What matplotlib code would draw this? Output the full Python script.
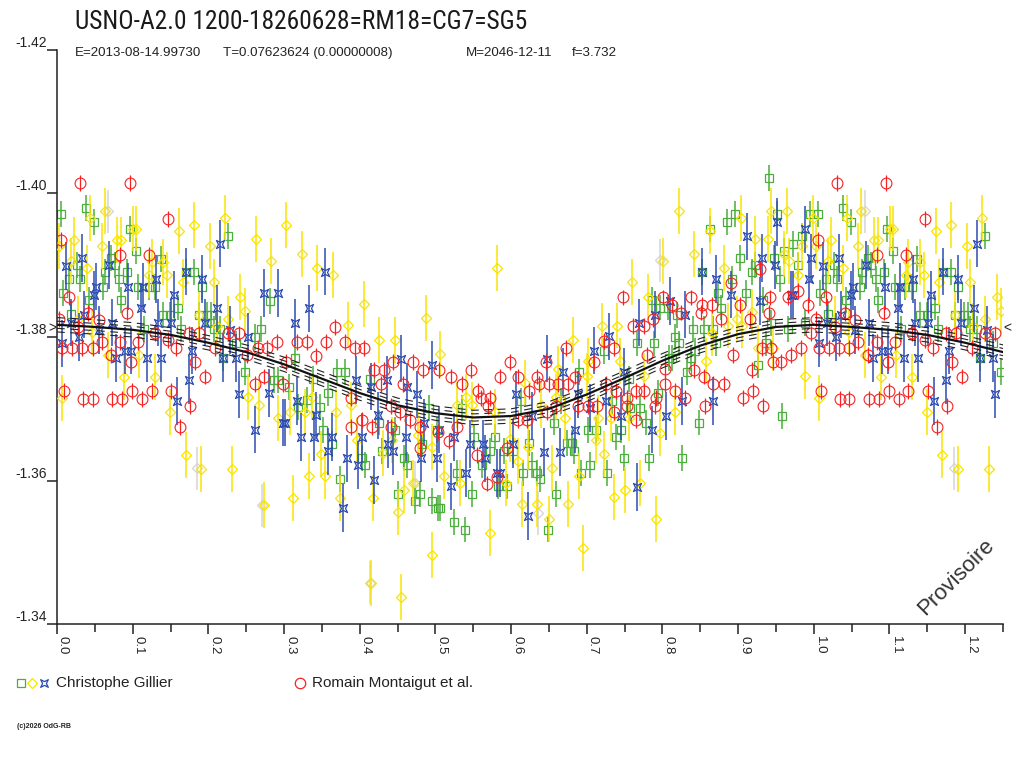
import numpy as np
import matplotlib
matplotlib.use("Agg")
import matplotlib.pyplot as plt
from matplotlib.path import Path
from matplotlib.lines import Line2D
from matplotlib.ticker import FixedLocator, MultipleLocator
from matplotlib import font_manager

# ---------------- data ----------------
TITLE = "USNO-A2.0 1200-18260628=RM18=CG7=SG5"
SUB_PARTS = ["E=2013-08-14.99730", "T=0.07623624 (0.00000008)", "M=2046-12-11", "f=3.732"]
YTICKS = [-1.42, -1.40, -1.38, -1.36, -1.34]
XTICK_LABELS = ["0.0", "0.1", "0.2", "0.3", "0.4", "0.5", "0.6", "0.7", "0.8", "0.9", "1.0", "1.1", "1.2"]
MEAN_MAG = -1.3813

GREEN_PHASE = [0.005, 0.038, 0.049, 0.097, 0.104, 0.226, 0.008, 0.016, 0.027, 0.030,
               0.019, 0.042, 0.061, 0.064, 0.071, 0.076, 0.082, 0.085, 0.093, 0.107,
               0.121, 0.130, 0.137, 0.140, 0.149, 0.160, 0.171, 0.181, 0.191, 0.187,
               0.198, 0.204, 0.164, 0.115, 0.207, 0.215, 0.220, 0.248, 0.237,
               0.281, 0.270, 0.261, 0.314, 0.287, 0.292, 0.307, 0.330, 0.338, 0.358,
               0.319, 0.347, 0.370, 0.381, 0.352, 0.363, 0.414, 0.425, 0.374, 0.403,
               0.407, 0.429, 0.447, 0.458, 0.462, 0.450, 0.480, 0.473, 0.495, 0.491,
               0.503, 0.502, 0.482,
               0.535, 0.551, 0.579, 0.561, 0.572, 0.590, 0.602, 0.613, 0.624, 0.627,
               0.616, 0.634, 0.638, 0.583, 0.594, 0.548, 0.528, 0.506, 0.524, 0.539,
               0.649, 0.660, 0.657, 0.674, 0.680, 0.683, 0.693, 0.704, 0.701, 0.712,
               0.738, 0.745, 0.727, 0.749, 0.723, 0.690, 0.666, 0.734,
               0.941, 0.896, 0.885, 0.863, 0.952, 0.995, 0.984, 0.973, 0.961, 0.903,
               0.852, 0.918, 0.922, 0.948, 0.955, 0.979, 0.892, 0.874, 0.878, 0.911,
               0.797, 0.808, 0.819, 0.786, 0.841, 0.855, 0.867, 0.767, 0.789, 0.816,
               0.822, 0.871, 0.809, 0.812, 0.838, 0.843, 0.833, 0.756, 0.933, 0.944,
               0.966, 0.937, 0.989, 0.926, 0.794, 0.757, 0.770, 0.778, 0.848, 0.958,
               0.782, 0.826]
GREEN_MAG = [-1.3971, -1.3980, -1.3960, -1.3950, -1.3920, -1.3940, -1.3861, -1.3881, -1.3900, -1.3881,
             -1.3832, -1.3852, -1.3870, -1.3891, -1.3910, -1.3900, -1.3881, -1.3851, -1.3891, -1.3870,
             -1.3870, -1.3870, -1.3909, -1.3831, -1.3831, -1.3841, -1.3891, -1.3891, -1.3870, -1.3831,
             -1.3831, -1.3831, -1.3811, -1.3811, -1.3811, -1.3811, -1.3771, -1.3751, -1.3791,
             -1.3850, -1.3811, -1.3800, -1.3771, -1.3740, -1.3740, -1.3731, -1.3712, -1.3742, -1.3722,
             -1.3702, -1.3702, -1.3751, -1.3751, -1.3671, -1.3651, -1.3742, -1.3681, -1.3602, -1.3631,
             -1.3622, -1.3641, -1.3671, -1.3631, -1.3622, -1.3581, -1.3581, -1.3572, -1.3572, -1.3701,
             -1.3562, -1.3671, -1.3651,
             -1.3701, -1.3661, -1.3661, -1.3622, -1.3641, -1.3641, -1.3641, -1.3711, -1.3652, -1.3622,
             -1.3611, -1.3611, -1.3602, -1.3592, -1.3592, -1.3581, -1.3611, -1.3562, -1.3542, -1.3532,
             -1.3532, -1.3581, -1.3681, -1.3652, -1.3652, -1.3641, -1.3611, -1.3622, -1.3671, -1.3671,
             -1.3661, -1.3671, -1.3611, -1.3631, -1.3781, -1.3751, -1.3711, -1.3711,
             -1.4021, -1.3971, -1.3960, -1.3950, -1.3971, -1.3971, -1.3940, -1.3930, -1.3920, -1.3910,
             -1.3891, -1.3891, -1.3900, -1.3910, -1.3881, -1.3900, -1.3881, -1.3861, -1.3841, -1.3861,
             -1.3841, -1.3841, -1.3831, -1.3851, -1.3811, -1.3811, -1.3811, -1.3791, -1.3791, -1.3800,
             -1.3791, -1.3791, -1.3771, -1.3771, -1.3771, -1.3781, -1.3751, -1.3741, -1.3852, -1.3820,
             -1.3811, -1.3791, -1.3820, -1.3761, -1.3722, -1.3701, -1.3701, -1.3681, -1.3681, -1.3690,
             -1.3631, -1.3631]

YELLOW_PHASE = [0.003, 0.019, 0.023, 0.039, 0.044, 0.063, 0.059, 0.079, 0.085, 0.101,
                0.105, 0.122, 0.125, 0.140, 0.146, 0.161, 0.181, 0.202, 0.222, 0.166,
                0.207, 0.242, 0.248, 0.226, 0.187, 0.211, 0.028, 0.046, 0.068, 0.109,
                0.089, 0.130, 0.007, 0.149, 0.170, 0.190, 0.231, 0.253,
                0.303, 0.263, 0.283, 0.324, 0.344, 0.365, 0.406, 0.385, 0.487, 0.426,
                0.447, 0.506, 0.267, 0.292, 0.308, 0.328, 0.337, 0.369, 0.389, 0.396,
                0.349, 0.333, 0.354, 0.273, 0.312, 0.374, 0.418, 0.451, 0.459, 0.471,
                0.431, 0.442, 0.495, 0.477, 0.415, 0.454, 0.496,
                0.581, 0.682, 0.720, 0.740, 0.744, 0.702, 0.662, 0.700, 0.618, 0.541,
                0.528, 0.548, 0.579, 0.640, 0.660, 0.671, 0.715, 0.732, 0.712, 0.622,
                0.598, 0.723, 0.512, 0.532, 0.593, 0.609, 0.654, 0.690, 0.614, 0.634,
                0.675, 0.736, 0.751, 0.650, 0.572, 0.695,
                0.822, 0.904, 0.943, 0.964, 0.999, 0.863, 0.922, 0.939, 0.984, 0.960,
                0.967, 0.842, 0.801, 0.882, 0.979, 0.760, 0.781, 0.918, 0.887, 0.898,
                0.905, 0.866, 0.926, 0.946, 0.857, 0.776, 0.988, 0.816, 0.756, 0.797,
                0.770, 0.792]
YELLOW_MAG = [-1.3926, -1.3906, -1.3935, -1.3896, -1.3965, -1.3976, -1.3926, -1.3935, -1.3935, -1.3951,
              -1.3951, -1.3886, -1.3905, -1.3905, -1.3886, -1.3947, -1.3956, -1.3926, -1.3965, -1.3876,
              -1.3876, -1.3856, -1.3836, -1.3825, -1.3830, -1.3816, -1.3825, -1.3807, -1.3775, -1.3775,
              -1.3745, -1.3745, -1.3715, -1.3696, -1.3636, -1.3616, -1.3616, -1.3717,
              -1.3956, -1.3936, -1.3906, -1.3916, -1.3896, -1.3886, -1.3846, -1.3817, -1.3826, -1.3796,
              -1.3796, -1.3777, -1.3705, -1.3687, -1.3696, -1.3696, -1.3716, -1.3696, -1.3705, -1.3657,
              -1.3637, -1.3607, -1.3607, -1.3566, -1.3576, -1.3576, -1.3576, -1.3557, -1.3587, -1.3597,
              -1.3638, -1.3657, -1.3647, -1.3664, -1.3457, -1.3438, -1.3497,
              -1.3896, -1.3796, -1.3816, -1.3816, -1.3766, -1.3766, -1.3755, -1.3746, -1.3736, -1.3716,
              -1.3705, -1.3705, -1.3696, -1.3705, -1.3716, -1.3687, -1.3687, -1.3687, -1.3657, -1.3647,
              -1.3658, -1.3637, -1.3607, -1.3597, -1.3597, -1.3627, -1.3617, -1.3607, -1.3567, -1.3567,
              -1.3567, -1.3577, -1.3587, -1.3547, -1.3527, -1.3507,
              -1.3976, -1.3965, -1.3976, -1.3976, -1.3965, -1.3947, -1.3936, -1.3936, -1.3926, -1.3916,
              -1.3906, -1.3916, -1.3906, -1.3896, -1.3886, -1.3876, -1.3856, -1.3835, -1.3816, -1.3825,
              -1.3816, -1.3806, -1.3785, -1.3785, -1.3766, -1.3746, -1.3746, -1.3696, -1.3687, -1.3666,
              -1.3597, -1.3547]

BLUE_PHASE = [0.012, 0.033, 0.069, 0.052, 0.049, 0.094, 0.114, 0.131, 0.111, 0.155,
              0.171, 0.191, 0.216, 0.212, 0.195, 0.151, 0.134, 0.073, 0.036, 0.018,
              0.029, 0.007, 0.055, 0.090, 0.098, 0.078, 0.119, 0.138, 0.179, 0.175,
              0.159, 0.220, 0.237, 0.229, 0.240, 0.252,
              0.354, 0.273, 0.292, 0.333, 0.314, 0.280, 0.261, 0.298, 0.301, 0.317,
              0.322, 0.339, 0.363, 0.342, 0.358, 0.383, 0.398, 0.378, 0.419, 0.395,
              0.415, 0.436, 0.455, 0.463, 0.476, 0.496, 0.424, 0.403, 0.438, 0.444,
              0.461, 0.481, 0.485, 0.502,
              0.729, 0.709, 0.647, 0.668, 0.607, 0.627, 0.689, 0.704, 0.726, 0.745,
              0.749, 0.684, 0.643, 0.664, 0.602, 0.563, 0.546, 0.565, 0.524, 0.505,
              0.541, 0.581, 0.585, 0.521, 0.623,
              0.952, 0.989, 0.912, 0.996, 0.932, 0.949, 0.852, 0.871, 0.993, 0.891,
              0.970, 0.973, 0.929, 0.810, 0.790, 0.830, 0.769, 0.867, 0.826, 0.805,
              0.786, 0.766]
BLUE_MAG = [-1.3899, -1.3910, -1.3900, -1.3870, -1.3859, -1.3870, -1.3870, -1.3881, -1.3840, -1.3859,
            -1.3891, -1.3881, -1.3930, -1.3840, -1.3820, -1.3820, -1.3820, -1.3820, -1.3831, -1.3820,
            -1.3800, -1.3791, -1.3810, -1.3781, -1.3781, -1.3771, -1.3771, -1.3771, -1.3781, -1.3740,
            -1.3711, -1.3771, -1.3771, -1.3810, -1.3720, -1.3800,
            -1.3891, -1.3861, -1.3861, -1.3840, -1.3820, -1.3722, -1.3671, -1.3681, -1.3681, -1.3711,
            -1.3661, -1.3661, -1.3661, -1.3691, -1.3641, -1.3631, -1.3622, -1.3562, -1.3601, -1.3740,
            -1.3731, -1.3740, -1.3770, -1.3731, -1.3720, -1.3761, -1.3691, -1.3661, -1.3651, -1.3641,
            -1.3661, -1.3631, -1.3681, -1.3631,
            -1.3801, -1.3781, -1.3770, -1.3751, -1.3720, -1.3690, -1.3720, -1.3701, -1.3711, -1.3690,
            -1.3751, -1.3671, -1.3640, -1.3640, -1.3651, -1.3651, -1.3651, -1.3631, -1.3661, -1.3671,
            -1.3611, -1.3611, -1.3611, -1.3592, -1.3551,
            -1.3960, -1.3950, -1.3940, -1.3910, -1.3910, -1.3900, -1.3891, -1.3881, -1.3881, -1.3859,
            -1.3859, -1.3859, -1.3850, -1.3850, -1.3831, -1.3831, -1.3820, -1.3711, -1.3711, -1.3690,
            -1.3671, -1.3591]

RED_PHASE = [0.030, 0.096, 0.147, 0.005, 0.083, 0.122, 0.016, 0.093, 0.003, 0.041,
             0.055, 0.028, 0.059, 0.083, 0.107, 0.130, 0.007, 0.020, 0.033, 0.047,
             0.071, 0.098, 0.009, 0.034, 0.047, 0.073, 0.086, 0.099, 0.112, 0.125,
             0.151, 0.176, 0.163, 0.196, 0.183, 0.175, 0.188, 0.226, 0.240, 0.209,
             0.147, 0.251, 0.157,
             0.367, 0.261, 0.266, 0.278, 0.291, 0.317, 0.330, 0.355, 0.342, 0.380,
             0.394, 0.406, 0.303, 0.274, 0.299, 0.389, 0.419, 0.432, 0.444, 0.428,
             0.457, 0.471, 0.483, 0.505, 0.441, 0.453, 0.467, 0.403, 0.389, 0.416,
             0.441, 0.480, 0.480, 0.504,
             0.748, 0.672, 0.521, 0.535, 0.547, 0.586, 0.598, 0.609, 0.634, 0.646,
             0.637, 0.650, 0.662, 0.675, 0.684, 0.710, 0.723, 0.736, 0.726, 0.739,
             0.556, 0.560, 0.572, 0.569, 0.624, 0.609, 0.621, 0.647, 0.659, 0.689,
             0.702, 0.714, 0.736, 0.753, 0.518, 0.529, 0.555, 0.568, 0.582, 0.595,
             0.929, 0.890, 0.942, 0.801, 0.838, 0.812, 0.852, 0.865, 0.902, 0.966,
             0.979, 0.992, 0.941, 0.825, 0.851, 0.788, 0.761, 0.775, 0.877, 0.916,
             0.996, 0.931, 0.944, 0.983, 0.779, 0.893, 0.946, 0.957, 0.970, 0.919,
             0.804, 0.842, 0.855, 0.867, 0.882, 0.920, 0.906, 0.933, 0.856, 0.803,
             0.816, 0.830, 0.791, 0.790, 0.765, 0.775, 0.753, 0.765]
RED_MAG = [-1.4014, -1.4014, -1.3964, -1.3935, -1.3914, -1.3914, -1.3855, -1.3834, -1.3825, -1.3833,
           -1.3824, -1.3814, -1.3793, -1.3793, -1.3793, -1.3805, -1.3785, -1.3785, -1.3785, -1.3785,
           -1.3775, -1.3765, -1.3725, -1.3714, -1.3714, -1.3714, -1.3714, -1.3725, -1.3714, -1.3725,
           -1.3725, -1.3704, -1.3675, -1.3745, -1.3765, -1.3805, -1.3805, -1.3805, -1.3805, -1.3785,
           -1.3796, -1.3775, -1.3785,
           -1.3814, -1.3735, -1.3785, -1.3785, -1.3793, -1.3793, -1.3793, -1.3793, -1.3774, -1.3793,
           -1.3785, -1.3785, -1.3765, -1.3745, -1.3735, -1.3715, -1.3754, -1.3754, -1.3765, -1.3735,
           -1.3735, -1.3765, -1.3754, -1.3754, -1.3704, -1.3695, -1.3684, -1.3684, -1.3675, -1.3675,
           -1.3675, -1.3675, -1.3645, -1.3668,
           -1.3855, -1.3785, -1.3745, -1.3735, -1.3754, -1.3745, -1.3765, -1.3745, -1.3745, -1.3765,
           -1.3735, -1.3735, -1.3735, -1.3735, -1.3745, -1.3765, -1.3794, -1.3785, -1.3735, -1.3725,
           -1.3725, -1.3715, -1.3715, -1.3704, -1.3725, -1.3685, -1.3685, -1.3695, -1.3704, -1.3704,
           -1.3704, -1.3704, -1.3695, -1.3715, -1.3655, -1.3675, -1.3636, -1.3596, -1.3605, -1.3645,
           -1.3895, -1.3875, -1.3855, -1.3855, -1.3855, -1.3845, -1.3845, -1.3845, -1.3845, -1.3855,
           -1.3864, -1.3845, -1.3834, -1.3834, -1.3834, -1.3825, -1.3815, -1.3815, -1.3825, -1.3825,
           -1.3805, -1.3785, -1.3785, -1.3785, -1.3775, -1.3775, -1.3765, -1.3765, -1.3775, -1.3754,
           -1.3755, -1.3754, -1.3745, -1.3735, -1.3735, -1.3725, -1.3715, -1.3704, -1.3704, -1.3735,
           -1.3725, -1.3715, -1.3715, -1.3704, -1.3725, -1.3725, -1.3704, -1.3684]

GREY_PHASE = [0.067, 0.185, 0.271, 0.414, 0.473, 0.635, 0.797]
GREY_MAG = [-1.3975, -1.3617, -1.3566, -1.3458, -1.3597, -1.3555, -1.3907]

GREEN_ERR = 0.0018
YELLOW_ERR = 0.0032
BLUE_ERR = 0.0033
RED_ERR = 0.0011
GREY_ERR = 0.0030

CURVE_PHASE = [0.00, 0.05, 0.10, 0.15, 0.20, 0.25, 0.30, 0.35, 0.40, 0.45, 0.50,
               0.55, 0.60, 0.65, 0.70, 0.75, 0.80, 0.85, 0.90, 0.95, 1.00]
CURVE_MAG = [-1.3817, -1.3814, -1.3810, -1.3803, -1.3792, -1.3779, -1.3762, -1.3742, -1.3722, -1.3705, -1.3694,
             -1.3688, -1.3690, -1.3700, -1.3720, -1.3743, -1.3767, -1.3788, -1.3804, -1.3814, -1.3817]
CURVE_BAND = [0.0005, 0.0010]

LEGEND_1 = "Christophe Gillier"
LEGEND_2 = "Romain Montaigut et al."
COPYRIGHT = "(c)2026 OdG-RB"
WATERMARK = "Provisoire"

# ---------------- styling ----------------
names = {f.name for f in font_manager.fontManager.ttflist}
BASE = "Liberation Sans" if "Liberation Sans" in names else "DejaVu Sans"
NARROW = None
for cand in ["Liberation Sans Narrow", "Roboto Condensed", "DejaVu Sans Condensed", "Open Sans Condensed"]:
    if cand in names:
        NARROW = cand
        break
TITLE_FONT = NARROW if NARROW else BASE
TITLE_SIZE = 18.4 if NARROW else 16
plt.rcParams["font.family"] = [BASE, "DejaVu Sans"]

C_GREEN = "#4aae3a"
C_YELLOW = "#f8e400"
C_BLUE = "#2c4bb0"
C_RED = "#f52222"
C_GREY = "#d4d4d4"

W, H = 1024, 768
fig = plt.figure(figsize=(W / 100, H / 100), dpi=100)
ax = fig.add_axes([57 / W, 1 - 624.4 / H, 946 / W, 574.8 / H])
ax.set_xlim(0, 1.25)
ax.set_ylim(YTICKS[-1], YTICKS[0])

def wrap(ph, mg):
    ph = np.asarray(ph, float)
    mg = np.asarray(mg, float)
    m = ph <= 0.25
    return np.concatenate([ph, ph[m] + 1.0]), np.concatenate([mg, mg[m]])

star_verts = [(-1, -1), (0, -0.5), (1, -1), (0.5, 0), (1, 1), (0, 0.5), (-1, 1), (-0.5, 0), (-1, -1)]
star_codes = [Path.MOVETO] + [Path.LINETO] * 7 + [Path.CLOSEPOLY]
STAR = Path(star_verts, star_codes)

def series(ph, mg, err, color, marker, ms, z, elw=1.1, mew=0.9):
    x, y = wrap(ph, mg)
    ax.errorbar(x, y, yerr=err, fmt="none", ecolor=color, elinewidth=elw, capsize=0, zorder=z)
    ax.plot(x, y, linestyle="none", marker=marker, markersize=ms, markerfacecolor="none",
            markeredgecolor=color, markeredgewidth=mew, zorder=z + 0.1)

series(GREY_PHASE, GREY_MAG, GREY_ERR, C_GREY, "D", 5.6, 1)
series(GREEN_PHASE, GREEN_MAG, GREEN_ERR, C_GREEN, "s", 6.4, 2)
series(YELLOW_PHASE, YELLOW_MAG, YELLOW_ERR, C_YELLOW, "D", 5.6, 3)
series(BLUE_PHASE, BLUE_MAG, BLUE_ERR, C_BLUE, STAR, 5.8, 4)
series(RED_PHASE, RED_MAG, RED_ERR, C_RED, "o", 7.8, 5, elw=0.9, mew=0.8)

cx, cy = wrap(CURVE_PHASE[1:], CURVE_MAG[1:])
cx = np.concatenate([[CURVE_PHASE[0]], cx])
cy = np.concatenate([[CURVE_MAG[0]], cy])
order = np.argsort(cx)
cx, cy = cx[order], cy[order]
ax.plot(cx, cy, color="#111111", lw=1.6, zorder=7)
for b in CURVE_BAND:
    ax.plot(cx, cy - b, color="#222222", lw=0.8, ls=(0, (7, 5)), zorder=6)
    ax.plot(cx, cy + b, color="#222222", lw=0.8, ls=(0, (7, 5)), zorder=6)

# axes
for s in ["top", "right"]:
    ax.spines[s].set_visible(False)
for s in ["left", "bottom"]:
    ax.spines[s].set_linewidth(1.1)
    ax.spines[s].set_color("#222222")

ax.set_yticks(YTICKS)
ax.set_yticklabels([f"{v:.2f}" for v in YTICKS], fontsize=10, color="#222222")
ax.tick_params(axis="y", direction="out", length=7.2, width=1.1, pad=0, color="#222222")
for lab in ax.get_yticklabels():
    lab.set_verticalalignment("bottom")

ax.xaxis.set_major_locator(FixedLocator([float(t) for t in XTICK_LABELS]))
ax.set_xticklabels(XTICK_LABELS, rotation=270, ha="left", va="top", fontsize=9.5, color="#222222")
ax.xaxis.set_minor_locator(MultipleLocator(0.05))
ax.tick_params(axis="x", which="major", direction="out", length=7, width=1.1, pad=1, color="#222222")
ax.tick_params(axis="x", which="minor", direction="out", length=6, width=1.1, color="#222222")

ax.annotate(">", xy=(0, MEAN_MAG), xytext=(-0.5, 0), textcoords="offset points",
            ha="right", va="center", fontsize=10, color="#222222", annotation_clip=False)
ax.annotate("<", xy=(1.25, MEAN_MAG), xytext=(0.5, 0), textcoords="offset points",
            ha="left", va="center", fontsize=10, color="#222222", annotation_clip=False)

# titles
fig.text(75 / W, 1 - 29 / H, TITLE, fontsize=TITLE_SIZE, family=[TITLE_FONT, "DejaVu Sans"],
         color="#1a1a1a", va="baseline", ha="left")
for xp, txt in zip([75, 223, 466, 572], SUB_PARTS):
    fig.text(xp / W, 1 - 56 / H, txt, fontsize=9.6, color="#222222", va="baseline", ha="left")

# legend
ly = 1 - 683 / H
for xp, mk, col, ms in [(21, "s", C_GREEN, 6.0), (32, "D", C_YELLOW, 5.0), (44, STAR, C_BLUE, 5.5)]:
    fig.add_artist(Line2D([xp / W], [ly], transform=fig.transFigure, marker=mk, markersize=ms,
                          markerfacecolor="none", markeredgecolor=col, markeredgewidth=0.9, linestyle="none"))
fig.text(56 / W, 1 - 687 / H, LEGEND_1, fontsize=11, color="#222222", va="baseline", ha="left")
fig.add_artist(Line2D([300 / W], [ly], transform=fig.transFigure, marker="o", markersize=7.5,
                      markerfacecolor="none", markeredgecolor=C_RED, markeredgewidth=0.9, linestyle="none"))
fig.text(312 / W, 1 - 687 / H, LEGEND_2, fontsize=11, color="#222222", va="baseline", ha="left")

fig.text(17 / W, 1 - 726 / H, COPYRIGHT, fontsize=5, fontweight="bold", color="#222222", va="center", ha="left")

fig.text(956 / W, 1 - 577 / H, WATERMARK, fontsize=16, rotation=45, color="#333333",
         ha="center", va="center", rotation_mode="anchor")

fig.savefig("out.png", dpi=100)
